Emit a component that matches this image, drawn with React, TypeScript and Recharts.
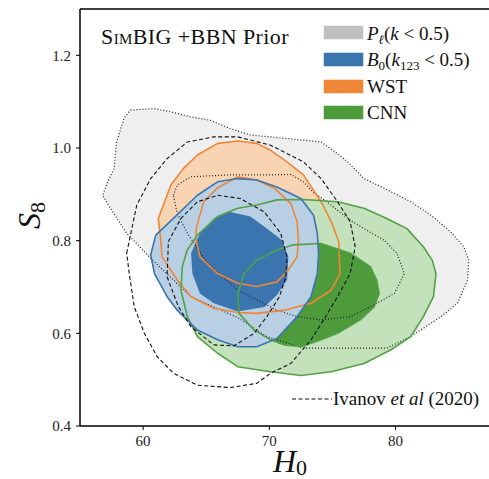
import React from 'react';
import { ScatterChart, Scatter, XAxis, YAxis, ReferenceLine, Customized } from 'recharts';

const FONT = '"Liberation Serif", "DejaVu Serif", serif';

// contour vertices, [H0, S8]
const pkOuter = [
  [59.0, 1.082], [60.9, 1.085], [62.2, 1.078], [63.8, 1.067], [65.3, 1.06], [66.9, 1.042],
  [68.5, 1.028], [70.1, 1.024], [74.1, 1.013], [75.4, 0.988], [76.2, 0.97], [77.5, 0.934],
  [79.1, 0.913], [81.2, 0.884], [82.8, 0.855], [84.4, 0.818], [85.4, 0.787], [85.8, 0.758],
  [85.7, 0.715], [84.9, 0.665], [83.6, 0.636], [82.2, 0.611], [81.2, 0.593], [79.3, 0.568],
  [72.7, 0.568], [69.8, 0.593], [67.5, 0.634], [63.8, 0.679], [60.6, 0.762], [58.7, 0.816],
  [57.4, 0.87], [56.8, 0.898], [57.2, 0.927], [57.7, 0.956], [57.9, 1.013], [58.5, 1.065],
];
const pkInner = [
  [62.4, 0.898], [62.7, 0.92], [63.8, 0.938], [66.9, 0.942], [70.1, 0.942], [71.7, 0.943],
  [72.7, 0.927], [73.5, 0.904], [74.6, 0.883], [75.6, 0.861], [76.7, 0.839], [78.0, 0.818],
  [79.1, 0.801], [80.1, 0.773], [80.7, 0.729], [79.9, 0.686], [78.0, 0.657], [76.4, 0.636],
  [74.1, 0.629], [72.2, 0.636], [70.6, 0.65], [67.5, 0.693], [65.1, 0.751], [63.5, 0.816],
  [62.7, 0.859],
];
const b0Outer = [
  [60.6, 0.769], [61.0, 0.812], [62.4, 0.848], [64.3, 0.898], [65.9, 0.927], [67.5, 0.934],
  [69.0, 0.931], [70.6, 0.916], [72.5, 0.891], [73.5, 0.855], [73.8, 0.816], [73.9, 0.773],
  [73.8, 0.729], [73.3, 0.679], [72.2, 0.636], [70.6, 0.589], [69.0, 0.571], [67.5, 0.571],
  [65.9, 0.586], [64.3, 0.607], [62.7, 0.65], [61.9, 0.679], [60.9, 0.729],
];
const b0Inner = [
  [65.6, 0.848], [66.9, 0.862], [68.5, 0.852], [69.8, 0.826], [71.0, 0.801], [71.5, 0.765],
  [71.4, 0.715], [70.6, 0.683], [69.6, 0.657], [67.5, 0.647], [65.6, 0.665], [64.5, 0.686],
  [63.9, 0.729], [63.8, 0.773], [64.5, 0.816],
];
const wstOuter = [
  [61.4, 0.801], [61.2, 0.848], [62.2, 0.92], [63.2, 0.956], [64.3, 0.985], [65.9, 1.01],
  [67.5, 1.015], [69.0, 1.01], [70.1, 0.995], [71.4, 0.97], [72.7, 0.942], [74.1, 0.884],
  [74.9, 0.841], [75.5, 0.798], [75.6, 0.729], [74.9, 0.693], [73.3, 0.665], [71.2, 0.65],
  [69.0, 0.643], [67.5, 0.645], [65.6, 0.654], [63.8, 0.679], [62.7, 0.715], [61.5, 0.765],
];
const wstInner = [
  [67.5, 0.938], [69.0, 0.931], [70.4, 0.913], [71.7, 0.88], [72.2, 0.841], [72.3, 0.801],
  [72.2, 0.765], [71.4, 0.733], [70.6, 0.711], [69.0, 0.701], [67.5, 0.708], [65.9, 0.729],
  [64.5, 0.765], [64.2, 0.801], [64.2, 0.826], [64.8, 0.884], [65.9, 0.914],
];
const cnnOuter = [
  [63.5, 0.78], [64.3, 0.812], [65.9, 0.852], [67.5, 0.87], [69.0, 0.877], [70.6, 0.888],
  [72.7, 0.889], [75.4, 0.884], [77.5, 0.87], [79.3, 0.848], [80.9, 0.826], [82.2, 0.787],
  [82.9, 0.758], [83.2, 0.729], [83.0, 0.679], [82.2, 0.636], [81.2, 0.593], [79.6, 0.564],
  [77.5, 0.535], [74.9, 0.517], [72.5, 0.509], [70.1, 0.517], [67.5, 0.528], [65.9, 0.557],
  [64.3, 0.593], [63.5, 0.636], [63.0, 0.693], [63.1, 0.744],
];
const cnnInner = [
  [67.6, 0.643], [67.5, 0.686], [68.0, 0.729], [69.0, 0.758], [70.6, 0.78], [71.9, 0.791],
  [74.1, 0.794], [76.4, 0.773], [78.0, 0.744], [78.5, 0.715], [78.7, 0.686], [78.3, 0.657],
  [77.2, 0.629], [75.4, 0.6], [74.1, 0.586], [72.5, 0.571], [71.2, 0.575], [70.1, 0.586],
  [68.8, 0.607],
];
const ivanovOuter = [
  [58.7, 0.773], [59.5, 0.877], [60.6, 0.934], [61.9, 0.977], [63.5, 1.013], [65.6, 1.024],
  [67.5, 1.024], [70.1, 1.006], [72.7, 0.97], [74.1, 0.934], [75.4, 0.884], [76.4, 0.841],
  [76.8, 0.787], [76.4, 0.729], [75.4, 0.679], [74.3, 0.629], [73.3, 0.586], [71.7, 0.535],
  [70.1, 0.514], [69.0, 0.492], [66.9, 0.483], [64.3, 0.488], [62.4, 0.514], [61.1, 0.55],
  [60.1, 0.6], [59.3, 0.657], [58.9, 0.729],
];
const ivanovInner = [
  [65.9, 0.898], [67.7, 0.891], [69.6, 0.862], [70.9, 0.816], [71.4, 0.765], [71.3, 0.722],
  [70.8, 0.679], [69.8, 0.636], [68.8, 0.6], [67.2, 0.573], [65.6, 0.575], [63.8, 0.614],
  [62.8, 0.657], [61.9, 0.722], [62.0, 0.798], [63.0, 0.848], [64.3, 0.884],
];

const xTicks = [60, 70, 80];
const yTicks = [0.4, 0.6, 0.8, 1.0, 1.2];

const toPts = (arr: number[][]) => arr.map(([x, y]) => ({ x, y }));

const fillLayers = [
  { name: 'pk95', data: pkOuter, fill: '#efefef' },
  { name: 'pk68', data: pkInner, fill: '#d9d9d9' },
  { name: 'wst95', data: wstOuter, fill: '#f9d4b3' },
  { name: 'wst68', data: wstInner, fill: '#f3a96b' },
  { name: 'cnn95', data: cnnOuter, fill: '#c3e2bb' },
  { name: 'cnn68', data: cnnInner, fill: '#4e9b3c' },
  { name: 'b095', data: b0Outer, fill: '#b8cfe4' },
  { name: 'b068', data: b0Inner, fill: '#3a75af' },
];

const lineLayers = [
  { name: 'pk95l', data: pkOuter, stroke: '#222', w: 1.2, dash: '1 2' },
  { name: 'pk68l', data: pkInner, stroke: '#222', w: 1.2, dash: '1 2' },
  { name: 'wst95l', data: wstOuter, stroke: '#ef8636', w: 1.6 },
  { name: 'wst68l', data: wstInner, stroke: '#ef8636', w: 1.6 },
  { name: 'cnn95l', data: cnnOuter, stroke: '#53a145', w: 1.6 },
  { name: 'cnn68l', data: cnnInner, stroke: '#53a145', w: 1.6 },
  { name: 'b095l', data: b0Outer, stroke: '#3a75af', w: 1.6 },
  { name: 'iv95l', data: ivanovOuter, stroke: '#111', w: 1.1, dash: '4 2.5' },
  { name: 'iv68l', data: ivanovInner, stroke: '#111', w: 1.1, dash: '4 2.5' },
];

const polygon = (fill: string, stroke: string, w: number, dash?: string) => (props: any) => {
  const p = props.points || [];
  if (!p.length) return <g />;
  const d = p.map((q: any, i: number) => `${i ? 'L' : 'M'}${q.x},${q.y}`).join(' ') + ' Z';
  return <path d={d} fill={fill} stroke={stroke} strokeWidth={w} strokeDasharray={dash} strokeLinejoin="round" />;
};

const legendRows = [
  { color: '#c0c0c0', y: 26 },
  { color: '#3a75af', y: 53 },
  { color: '#ef8636', y: 80 },
  { color: '#4e9b3c', y: 106 },
];

function Decor() {
  return (
    <g fontFamily={FONT} fill="#111">
      <text x={101} y={44} fontSize={22} letterSpacing={0.4}>
        <tspan style={{ fontVariant: 'small-caps' }}>SimBIG</tspan> +BBN Prior
      </text>
      {legendRows.map((r) => (
        <rect key={r.y} x={324} y={r.y} width={39} height={13} fill={r.color} stroke={r.color} strokeOpacity={0.5} />
      ))}
      <text x={367} y={39.5} fontSize={19}>
        <tspan fontStyle="italic">P</tspan>
        <tspan fontStyle="italic" fontSize={13} dy={4}>ℓ</tspan>
        <tspan dy={-4}>(</tspan>
        <tspan fontStyle="italic">k</tspan> &lt; 0.5)
      </text>
      <text x={367} y={66} fontSize={19}>
        <tspan fontStyle="italic">B</tspan>
        <tspan fontSize={13} dy={4}>0</tspan>
        <tspan dy={-4}>(</tspan>
        <tspan fontStyle="italic">k</tspan>
        <tspan fontSize={13} dy={4}>123</tspan>
        <tspan dy={-4}> &lt; 0.5)</tspan>
      </text>
      <text x={367} y={93} fontSize={19}>WST</text>
      <text x={367} y={119} fontSize={19}>CNN</text>
      <line x1={292} x2={332} y1={399} y2={399} stroke="#111" strokeWidth={1.2} strokeDasharray="4 2.5" />
      <text x={333} y={405} fontSize={19}>
        Ivanov <tspan fontStyle="italic">et al</tspan> (2020)
      </text>
      <text x={273} y={472} fontSize={32} fontStyle="italic">
        H<tspan fontStyle="normal" fontSize={22} dy={3}>0</tspan>
      </text>
      <text x={40} y={229} fontSize={32} fontStyle="italic" transform="rotate(-90 40 229)">
        S<tspan fontStyle="normal" fontSize={22} dy={5}>8</tspan>
      </text>
    </g>
  );
}

export default function App() {
  const tickStyle = { fontFamily: FONT, fontSize: 15, fill: '#222' };
  return (
    <div style={{ position: 'absolute', left: 0, top: 0, width: 489, height: 479, overflow: 'hidden', background: '#fff' }}>
      <ScatterChart width={489} height={479} margin={{ top: 9, right: 0, bottom: 23, left: 0 }}>
        <XAxis
          type="number"
          dataKey="x"
          domain={[55, 87.4]}
          allowDataOverflow
          ticks={xTicks}
          tick={tickStyle}
          tickSize={4}
          tickMargin={5}
          axisLine={{ stroke: '#000', strokeWidth: 1.5 }}
          tickLine={{ stroke: '#000', strokeWidth: 1 }}
        />
        <YAxis
          type="number"
          dataKey="y"
          width={80}
          domain={[0.4, 1.3]}
          allowDataOverflow
          ticks={yTicks}
          tickFormatter={(v: number) => v.toFixed(1)}
          tick={tickStyle}
          tickSize={4}
          tickMargin={5}
          axisLine={{ stroke: '#000', strokeWidth: 1.5 }}
          tickLine={{ stroke: '#000', strokeWidth: 1 }}
        />
        {fillLayers.map((l) => (
          <Scatter
            key={l.name}
            name={l.name}
            data={toPts(l.data)}
            isAnimationActive={false}
            legendType="none"
            shape={() => <g />}
            line={polygon(l.fill, 'none', 0)}
          />
        ))}
        {lineLayers.map((l) => (
          <Scatter
            key={l.name}
            name={l.name}
            data={toPts(l.data)}
            isAnimationActive={false}
            legendType="none"
            shape={() => <g />}
            line={polygon('none', l.stroke, l.w, l.dash)}
          />
        ))}
        <ReferenceLine y={1.3} stroke="#000" strokeWidth={1.5} />
        <Customized component={<Decor />} />
      </ScatterChart>
    </div>
  );
}
